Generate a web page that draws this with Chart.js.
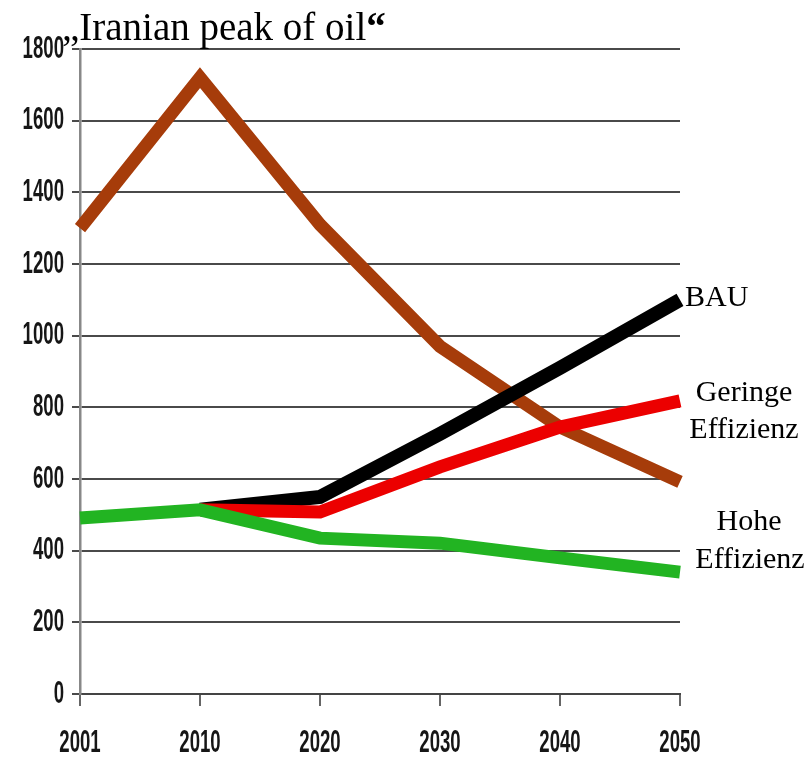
<!DOCTYPE html>
<html>
<head>
<meta charset="utf-8">
<script src="https://cdn.jsdelivr.net/npm/chart.js@4/dist/chart.umd.min.js"></script>
<style>
  html, body { margin: 0; padding: 0; background: #fff; }
  #wrap { position: relative; width: 811px; height: 759px; }
</style>
</head>
<body>
<div id="wrap"><canvas id="c" width="811" height="759"></canvas></div>
<script>
// Years on the horizontal axis
const years = ['2001', '2010', '2020', '2030', '2040', '2050'];

// Oil output path and the three demand scenarios
const peakOil = [1300, 1720, 1310, 970, 745, 592];
const bau = [null, 514, 550, 726, 910, 1100];
const geringeEffizienz = [null, 514, 508, 634, 745, 818];
const hoheEffizienz = [491, 514, 435, 421, 380, 340];

// Value axis
const yMin = 0;
const yMax = 1800;
const yStep = 200;

// Texts
const titleText = '\u201EIranian peak of oil';
const titleClose = '\u201C';
const bauLabel = ['BAU'];
const geringeLabel = ['Geringe', 'Effizienz'];
const hoheLabel = ['Hohe', 'Effizienz'];

const serif = "'Liberation Serif', 'Times New Roman', serif";
const tickFace = "bold 31px 'Liberation Sans', Arial, sans-serif";
const tickSquash = 0.6;

// Narrow bold tick numbers, squeezed horizontally
function drawTickText(ctx, text, x, y, align) {
  ctx.save();
  ctx.translate(x, y);
  ctx.scale(tickSquash, 1);
  ctx.font = tickFace;
  ctx.fillStyle = '#161616';
  ctx.textAlign = align;
  ctx.textBaseline = 'middle';
  ctx.fillText(text, 0, 0);
  ctx.restore();
}

// Tick labels, title and scenario names drawn around the plot area
const annotations = {
  id: 'annotations',
  afterDraw(chart) {
    const ctx = chart.ctx;
    const area = chart.chartArea;
    const xs = chart.scales.x;
    const ys = chart.scales.y;

    ys.ticks.forEach((t, i) => {
      drawTickText(ctx, String(t.value), ys.right - 16, ys.getPixelForTick(i), 'right');
    });
    xs.ticks.forEach((t, i) => {
      drawTickText(ctx, years[i], xs.getPixelForTick(i), xs.top + 49, 'center');
    });

    ctx.save();
    ctx.fillStyle = '#000';
    ctx.textBaseline = 'alphabetic';
    ctx.textAlign = 'left';
    ctx.font = '39px ' + serif;
    ctx.fillText(titleText, 62, 40);
    const w = ctx.measureText(titleText).width;
    ctx.font = 'bold 39px ' + serif;
    ctx.fillText(titleClose, 62 + w, 40);

    ctx.font = '30px ' + serif;
    ctx.textBaseline = 'middle';
    ctx.textAlign = 'left';
    ctx.fillText(bauLabel[0], area.right + 5, 298);

    ctx.textAlign = 'center';
    ctx.fillText(geringeLabel[0], area.right + 64, 393);
    ctx.fillText(geringeLabel[1], area.right + 64, 430);
    ctx.fillText(hoheLabel[0], area.right + 69, 522);
    ctx.fillText(hoheLabel[1], area.right + 70, 560);
    ctx.restore();
  }
};

new Chart(document.getElementById('c'), {
  type: 'line',
  data: {
    labels: years,
    datasets: [
      { label: 'Hohe Effizienz', data: hoheEffizienz, borderColor: '#22b422', borderWidth: 13, order: 0 },
      { label: 'Geringe Effizienz', data: geringeEffizienz, borderColor: '#ec0000', borderWidth: 13, order: 1 },
      { label: 'BAU', data: bau, borderColor: '#000000', borderWidth: 14, order: 2 },
      { label: 'Peak of oil', data: peakOil, borderColor: '#a63c0a', borderWidth: 13, order: 3 }
    ]
  },
  options: {
    responsive: false,
    animation: false,
    events: [],
    elements: {
      point: { radius: 0, hoverRadius: 0 },
      line: { tension: 0, fill: false, borderCapStyle: 'butt', borderJoinStyle: 'miter' }
    },
    layout: { padding: { top: 49, right: 131, left: 0, bottom: 0 } },
    plugins: {
      legend: { display: false },
      tooltip: { enabled: false },
      title: { display: false }
    },
    scales: {
      x: {
        type: 'category',
        offset: false,
        grid: { drawOnChartArea: false, drawTicks: true, tickLength: 12, color: '#666', lineWidth: 2 },
        border: { display: true, color: '#444', width: 2 },
        ticks: { display: false, autoSkip: false },
        afterFit(scale) { scale.height = 65; }
      },
      y: {
        min: yMin,
        max: yMax,
        grid: { color: '#4a4a4a', lineWidth: 2, tickLength: 8, drawTicks: true },
        border: { display: true, color: '#888', width: 2.5 },
        ticks: { display: false, stepSize: yStep },
        afterFit(scale) { scale.width = 80; }
      }
    }
  },
  plugins: [annotations]
});
</script>
</body>
</html>
